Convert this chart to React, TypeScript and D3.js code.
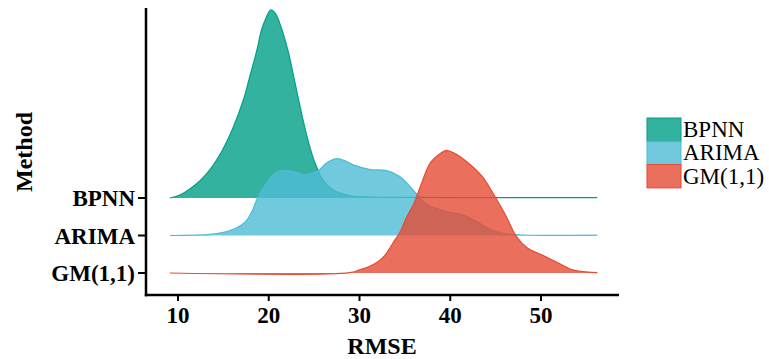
import React from "react";
import * as d3 from "d3";

const methods = ["BPNN", "ARIMA", "GM(1,1)"];
const colors = ["#00A087", "#4DBBD5", "#E64B35"];
const xTicks = [10, 20, 30, 40, 50];

const bpnnRmse = [9.1, 10.2, 11.3, 12.4, 13.5, 14.9, 16.1, 17.2, 17.9, 18.7, 19.2, 19.7, 20.2, 20.7, 21.2, 22.1, 22.9, 23.7, 24.4, 25.1, 26.0, 27.1, 28.9, 30.8, 35, 45, 56.2];
const bpnnDensity = [0, 0.0029, 0.0087, 0.0164, 0.027, 0.0462, 0.0684, 0.0943, 0.1165, 0.1425, 0.1617, 0.1733, 0.181, 0.178, 0.1685, 0.1425, 0.1107, 0.078, 0.053, 0.0337, 0.017, 0.0077, 0.0024, 0.0012, 0.0006, 0.0004, 0.0003];

const arimaRmse = [9.1, 13.5, 15.0, 16.1, 17.0, 17.6, 18.2, 18.7, 19.8, 20.9, 22.0, 23.0, 23.8, 25.3, 26.4, 27.5, 28.4, 29.3, 31.2, 33.0, 34.4, 35.9, 37.4, 39.6, 41.4, 42.9, 44.4, 45.8, 48, 56.2];
const arimaDensity = [0, 0.001, 0.003, 0.006, 0.01, 0.015, 0.024, 0.035, 0.051, 0.061, 0.0625, 0.061, 0.0587, 0.0615, 0.07, 0.074, 0.072, 0.068, 0.0635, 0.0625, 0.057, 0.044, 0.03, 0.023, 0.02, 0.0135, 0.006, 0.002, 0.0005, 0.0003];

const gmRmse = [9.1, 28.9, 30.0, 31.0, 31.9, 32.8, 33.7, 34.5, 35.2, 36.0, 36.7, 37.8, 38.9, 39.6, 40.3, 41.1, 42.5, 43.6, 44.7, 45.5, 46.2, 47.3, 48.5, 50.2, 51.7, 53.5, 55, 56.2];
const gmDensity = [0, 0.0003, 0.003, 0.006, 0.01, 0.017, 0.029, 0.04, 0.054, 0.067, 0.083, 0.106, 0.115, 0.118, 0.116, 0.112, 0.102, 0.092, 0.077, 0.065, 0.054, 0.035, 0.024, 0.017, 0.0106, 0.003, 0.001, 0.0003];

const seriesX = [bpnnRmse, arimaRmse, gmRmse];
const seriesY = [bpnnDensity, arimaDensity, gmDensity];

const serif = "'Liberation Serif', 'Times New Roman', serif";

export default function App() {
  const x = d3.scaleLinear().domain([10, 50]).range([178, 541]);
  const base = d3.scalePoint<string>().domain(["GM(1,1)", "ARIMA", "BPNN"]).range([273, 198]);
  const h = d3.scaleLinear().domain([0, 0.181]).range([0, 188]);

  const axisLeft = 146;
  const axisBottom = 295;
  const axisRight = 619;
  const axisTop = 8;
  const curve = d3.curveCatmullRom.alpha(0.5);

  return (
    <svg
      width={769}
      height={359}
      style={{ position: "absolute", left: 0, top: 0, background: "#fff" }}
      fontFamily={serif}
    >
      <rect x={0} y={0} width={769} height={359} fill="#fff" />
      {methods.map((m, i) => {
        const pts = seriesX[i].map((v, j) => [v, seriesY[i][j]] as [number, number]);
        const b = base(m)!;
        const yTop = (d: [number, number]) => Math.min(b, b - h(d[1]));
        const area = d3
          .area<[number, number]>()
          .x((d) => x(d[0]))
          .y0(b)
          .y1(yTop)
          .curve(curve);
        const line = d3
          .line<[number, number]>()
          .x((d) => x(d[0]))
          .y(yTop)
          .curve(curve);
        return (
          <g key={m}>
            <path d={area(pts)!} fill={colors[i]} fillOpacity={0.8} stroke="none" />
            <path d={line(pts)!} fill="none" stroke={colors[i]} strokeWidth={1.2} />
          </g>
        );
      })}

      {/* axes */}
      <line x1={axisLeft} x2={axisLeft} y1={axisTop} y2={axisBottom + 1.2} stroke="#000" strokeWidth={2.5} />
      <line x1={axisLeft - 1.2} x2={axisRight} y1={axisBottom} y2={axisBottom} stroke="#000" strokeWidth={2.5} />

      {xTicks.map((t) => (
        <g key={t}>
          <line x1={x(t)} x2={x(t)} y1={axisBottom} y2={axisBottom + 6} stroke="#000" strokeWidth={2} />
          <text x={x(t)} y={323} textAnchor="middle" fontSize={23} fontWeight="bold" fill="#000">
            {t}
          </text>
        </g>
      ))}

      {methods.map((m) => (
        <g key={m}>
          <line x1={axisLeft - 8} x2={axisLeft} y1={base(m)!} y2={base(m)!} stroke="#000" strokeWidth={2} />
          <text x={axisLeft - 11} y={base(m)! + 8} textAnchor="end" fontSize={23} fontWeight="bold" fill="#000">
            {m}
          </text>
        </g>
      ))}

      <text x={382} y={354} textAnchor="middle" fontSize={24} fontWeight="bold" fill="#000">
        RMSE
      </text>
      <text
        transform="translate(32,152) rotate(-90)"
        textAnchor="middle"
        fontSize={24}
        fontWeight="bold"
        fill="#000"
      >
        Method
      </text>

      {/* legend */}
      {methods.map((m, i) => {
        const y0 = 118 + i * 23.3;
        return (
          <g key={m}>
            <rect x={647} y={y0} width={34} height={23.3} fill={colors[i]} fillOpacity={0.8} stroke={colors[i]} strokeWidth={1} />
            <text x={683} y={y0 + 19} fontSize={23} fill="#000">
              {m}
            </text>
          </g>
        );
      })}
    </svg>
  );
}
